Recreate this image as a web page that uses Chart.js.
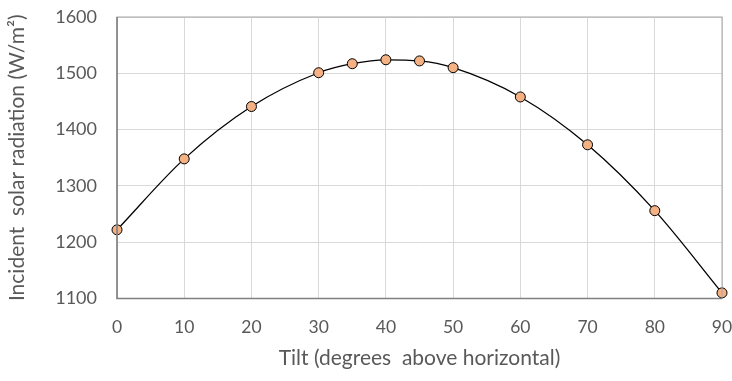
<!DOCTYPE html>
<html>
<head>
<meta charset="utf-8">
<script src="https://cdn.jsdelivr.net/npm/chart.js@4/dist/chart.umd.min.js"></script>
<style>
  html, body { margin: 0; padding: 0; background: #fff; }
</style>
</head>
<body>
<canvas id="tiltChart" width="732" height="381"></canvas>
<script>
// ── data ──
const tilts = [0, 10, 20, 30, 35, 40, 45, 50, 60, 70, 80, 90];
const radiation = [1222, 1348, 1441, 1501, 1517, 1524, 1522, 1510, 1458, 1373, 1256, 1110];
const yTicks = [1100, 1200, 1300, 1400, 1500, 1600];
const xTicks = [0, 10, 20, 30, 40, 50, 60, 70, 80, 90];

const FONT = 'Lato, "Liberation Sans", sans-serif';
const TEXT = '#595959';

// plot-area frame (Excel style)
const frame = {
  id: 'frame',
  afterDatasetsDraw(chart) {
    const { ctx, chartArea: a } = chart;
    ctx.save();
    ctx.strokeStyle = '#a6a6a6';
    ctx.lineWidth = 1;
    ctx.strokeRect(a.left, a.top, a.right - a.left, a.bottom - a.top);
    ctx.strokeStyle = '#808080';
    ctx.lineWidth = 1.5;
    ctx.beginPath();
    ctx.moveTo(a.left, a.top);
    ctx.lineTo(a.left, a.bottom);
    ctx.lineTo(a.right, a.bottom);
    ctx.stroke();
    ctx.restore();
  }
};

new Chart(document.getElementById('tiltChart'), {
  type: 'line',
  data: {
    datasets: [{
      data: tilts.map((t, i) => ({ x: t, y: radiation[i] })),
      borderColor: '#000',
      borderWidth: 1.3,
      tension: 0.4,
      cubicInterpolationMode: 'monotone',
      pointRadius: 5,
      pointBackgroundColor: '#F4B183',
      pointBorderColor: '#000',
      pointBorderWidth: 1,
      clip: false
    }]
  },
  options: {
    responsive: false,
    animation: false,
    devicePixelRatio: 1,
    layout: { padding: { top: 17, right: 10, left: 0, bottom: 0 } },
    plugins: { legend: { display: false }, tooltip: { enabled: false } },
    scales: {
      x: {
        type: 'linear',
        min: 0, max: 90,
        afterBuildTicks: s => { s.ticks = xTicks.map(v => ({ value: v })); },
        afterFit: s => { s.height = 381 - 298.5; s.paddingLeft = 0; s.paddingRight = 0; },
        grid: { color: '#d9d9d9', lineWidth: 1, drawTicks: false },
        border: { display: false },
        ticks: { color: TEXT, font: { family: FONT, size: 17.5 }, padding: 18, callback: v => String(v) },
        title: {
          display: true,
          text: 'Tilt (degrees  above horizontal)',
          color: TEXT,
          font: { family: FONT, size: 21 },
          padding: { top: 0, bottom: 10 }
        }
      },
      y: {
        min: 1100, max: 1600,
        afterBuildTicks: s => { s.ticks = yTicks.map(v => ({ value: v })); },
        afterFit: s => { s.width = 117; s.paddingTop = 0; s.paddingBottom = 0; },
        grid: { color: '#d9d9d9', lineWidth: 1, drawTicks: false },
        border: { display: false },
        ticks: { color: TEXT, font: { family: FONT, size: 18 }, padding: 20, callback: v => String(v) },
        title: {
          display: true,
          text: 'Incident  solar radiation (W/m²)',
          color: TEXT,
          font: { family: FONT, size: 21 },
          padding: { top: 5, bottom: 0 }
        }
      }
    }
  },
  plugins: [frame]
});
</script>
</body>
</html>
